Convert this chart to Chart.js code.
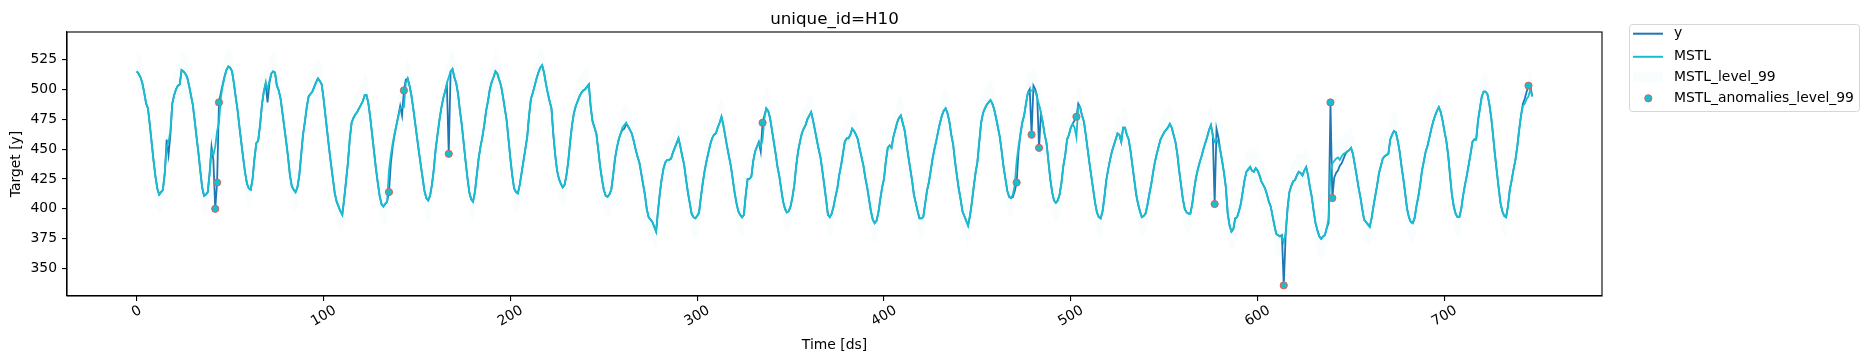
<!DOCTYPE html>
<html><head><meta charset="utf-8">
<script src="https://cdn.jsdelivr.net/npm/chart.js@4.4.0/dist/chart.umd.min.js"></script>
<style>html,body{margin:0;padding:0;background:#fff;}canvas{display:block;}</style>
</head><body>
<canvas id="c" width="1868" height="361"></canvas>
<script>
// observed series (one row = one day of 24 hourly values)
const y = [
515,513,510,505,497,488,484,470,455,440,427,417,412,414,416,430,458,445,462,488,495,500,503,504,
516,515,513,510,503,495,487,474,460,447,432,418,411,412,414,430,452,441,400,422,489,497,504,511,
516,519,518,515,505,493,482,468,455,442,430,421,417,416,425,442,455,457,470,487,498,505,489,505,
513,515,514,503,499,492,480,468,456,443,428,419,416,414,418,428,445,462,473,485,494,496,498,502,
506,509,507,504,492,478,464,450,437,425,413,406,402,398,395,408,423,438,458,472,476,479,481,484,
487,490,495,495,488,476,462,448,434,422,411,404,402,404,406,414,438,452,462,470,478,486,478,499,
508,509,503,495,484,472,460,448,437,426,415,409,407,411,420,433,450,462,474,484,492,498,504,446,
515,517,510,505,496,482,470,455,440,426,414,408,406,414,428,442,452,460,470,482,490,500,506,510,
515,513,508,503,494,484,474,458,442,428,417,414,413,420,430,440,450,460,478,492,497,503,509,514,
518,520,514,505,497,490,484,462,445,432,425,421,418,420,428,440,456,470,480,486,490,494,497,499,
500,502,504,485,473,468,463,450,436,425,416,411,410,412,416,428,442,451,458,463,466,467,471,469,
466,463,457,450,444,439,430,421,412,400,393,391,389,385,381,398,413,425,434,439,441,441,442,447,
451,455,459,452,444,437,425,414,405,396,393,392,394,397,410,422,432,440,447,454,459,462,463,468,
472,477,470,461,452,444,436,425,414,405,398,395,393,395,412,425,425,427,440,448,452,456,448,472,
478,484,482,476,466,456,446,435,427,416,406,400,397,398,402,410,420,436,448,456,463,467,470,475,
478,481,474,466,458,450,443,432,420,408,395,393,396,402,410,417,428,436,446,456,459,459,462,467,
465,462,458,450,443,436,426,418,408,398,391,388,390,397,408,418,425,440,451,453,451,460,466,472,
476,478,472,466,455,444,434,424,412,405,398,392,392,393,404,415,422,432,442,450,457,465,472,478,
482,484,480,473,462,454,440,428,417,408,398,394,390,386,394,405,418,430,439,456,472,480,484,487,
489,491,488,483,476,468,460,448,435,425,415,410,409,410,415,422,448,462,472,478,488,497,500,462,
503,500,494,451,480,472,462,455,440,425,414,407,405,407,412,422,436,445,458,462,468,471,474,477,
488,485,478,473,462,450,438,427,416,405,397,393,392,398,410,424,433,441,448,453,458,463,462,456,
468,468,462,458,448,436,424,412,404,398,393,394,396,403,412,420,430,439,446,452,458,461,464,466,
468,471,468,462,456,446,432,420,408,400,397,396,396,404,416,426,433,439,444,450,455,460,466,470,
462,404,467,460,449,440,430,418,396,386,381,383,392,393,398,404,414,424,431,433,435,432,431,434,
432,428,423,420,417,412,406,402,394,386,379,378,377,378,336,378,400,414,419,423,424,428,431,430,
428,432,435,428,418,410,398,388,382,377,375,377,378,384,388,489,409,426,430,432,436,438,442,446,
448,449,451,446,437,428,418,410,400,391,389,387,385,392,402,411,420,430,436,442,444,445,446,458,
462,465,464,457,448,436,425,413,400,393,389,388,392,402,410,420,432,440,448,453,460,467,473,478,
482,485,481,474,465,457,445,428,412,402,396,393,393,400,411,420,428,437,446,456,458,458,474,484,
494,498,498,496,488,477,462,446,432,418,405,398,394,393,402,416,424,433,441,452,466,478,488,492,498,503,503,494
];
// MSTL fitted values
const mstl = [
515,513,510,505,497,488,484,470,455,440,427,417,412,414,416,430,452,456,465,488,495,500,503,504,
516,515,513,510,503,495,487,474,460,447,432,418,411,412,414,430,448,445,452,465,472,493,503,510,
516,519,518,515,505,493,482,468,455,442,430,421,417,416,425,442,455,457,470,487,498,505,500,507,
513,515,514,503,499,492,480,468,456,443,428,419,416,414,418,428,445,462,473,485,494,496,498,502,
506,509,507,504,492,478,464,450,437,425,413,406,402,398,395,408,423,438,458,472,476,479,481,484,
487,490,495,495,488,476,462,448,434,422,411,404,402,404,406,432,445,455,463,470,477,484,485,485,
505,509,503,495,484,472,460,448,437,426,415,409,407,411,420,433,450,462,474,484,492,498,505,510,
515,517,510,505,496,482,470,455,440,426,414,408,406,414,428,442,452,460,470,482,490,500,506,510,
515,513,508,503,494,484,474,458,442,428,417,414,413,420,430,440,450,460,478,492,497,503,509,514,
518,520,514,505,497,490,484,462,445,432,425,421,418,420,428,440,456,470,480,486,490,494,497,499,
500,502,504,485,473,468,463,450,436,425,416,411,410,412,416,428,442,451,458,463,468,470,472,469,
466,463,457,450,444,439,430,421,412,400,393,391,389,385,381,398,413,425,434,439,441,441,442,447,
451,455,459,452,444,437,425,414,405,396,393,392,394,397,410,422,432,440,447,454,459,462,463,468,
472,477,470,461,452,444,436,425,414,405,398,395,393,395,412,425,425,427,440,448,452,455,452,458,
476,484,482,476,466,456,446,435,427,416,406,400,397,398,402,410,420,436,448,456,463,467,470,475,
478,481,474,466,458,450,443,432,420,408,395,393,396,402,410,417,428,436,446,456,459,459,462,467,
465,462,458,450,443,436,426,418,408,398,391,388,390,397,408,418,425,440,451,453,451,460,466,472,
476,478,472,466,455,444,434,424,412,405,398,392,392,393,404,415,422,432,442,450,457,465,472,478,
482,484,480,473,462,454,440,428,417,408,398,394,390,386,394,405,418,430,439,456,472,480,484,487,
489,491,488,483,476,468,460,448,435,425,415,410,409,412,420,440,452,462,472,478,488,497,498,499,
500,498,493,487,480,472,462,455,440,425,414,407,405,407,412,422,436,445,458,462,468,471,468,460,
486,485,478,473,462,450,438,427,416,405,397,393,392,398,410,424,433,441,448,453,458,463,462,456,
468,468,462,458,448,436,424,412,404,398,393,394,396,403,412,420,430,439,446,452,458,461,464,466,
468,471,468,462,456,446,432,420,408,400,397,396,396,404,416,426,433,439,444,450,455,460,466,470,
461,456,458,455,449,440,430,418,396,386,381,383,392,393,398,404,414,424,431,433,435,432,431,434,
432,428,423,420,417,412,406,402,394,386,379,378,377,377,372,380,400,414,419,423,424,428,431,430,
428,432,435,428,418,410,398,388,382,377,375,377,378,384,392,432,438,440,442,443,441,444,446,447,
448,449,451,446,437,428,418,410,400,391,389,387,385,392,402,411,420,430,436,442,444,445,446,458,
462,465,464,457,448,436,425,413,400,393,389,388,392,402,410,420,432,440,448,453,460,467,473,478,
482,485,481,474,465,457,445,428,412,402,396,393,393,400,411,420,428,437,446,456,458,458,474,484,
494,498,498,496,488,477,462,446,432,418,405,398,394,393,402,416,424,433,441,452,466,478,486,488,492,494,500,494
];
// half width of the 99% interval band around MSTL
const levelHalfWidth = 17;
// hours flagged as anomalies (outside the 99% band)
const anomalyHours = [42,43,44,135,143,167,335,471,479,483,503,577,614,639,640,745];
const xTickValues = [0,100,200,300,400,500,600,700];
const yTickValues = [350,375,400,425,450,475,500,525];
const titleText = 'unique_id=H10';
const xTitle = 'Time [ds]';
const yTitle = 'Target [y]';

const FONT = "'DejaVu Sans', sans-serif";
const C_Y = '#1f77b4', C_M = '#17becf', C_BAND = 'rgba(23,190,207,0.028)', C_EDGE = '#ea5a4e';

const pts = arr => arr.map((v, i) => ({x: i, y: v}));
const lo = mstl.map(v => v - levelHalfWidth);
const hi = mstl.map(v => v + levelHalfWidth);

const decor = {
  id: 'decor',
  afterDraw(chart) {
    const ctx = chart.ctx, ca = chart.chartArea, xs = chart.scales.x;
    ctx.save();
    ctx.strokeStyle = '#000'; ctx.lineWidth = 1.1;
    ctx.strokeRect(ca.left, ca.top, ca.right - ca.left, ca.bottom - ca.top);
    ctx.fillStyle = '#000';
    ctx.font = '13.9px ' + FONT;
    ctx.textAlign = 'center'; ctx.textBaseline = 'middle';
    const s = Math.sin(Math.PI / 6), c = Math.cos(Math.PI / 6);
    xTickValues.forEach(v => {
      const px = xs.getPixelForValue(v);
      const w = ctx.measureText(String(v)).width;
      const cy = ca.bottom + 9 + (w * s + 10.5 * c) / 2;
      ctx.save(); ctx.translate(px, cy); ctx.rotate(-Math.PI / 6);
      ctx.fillText(String(v), 0, 0); ctx.restore();
    });
    ctx.fillText(xTitle, (ca.left + ca.right) / 2, 345);
    ctx.save(); ctx.translate(16, (ca.top + ca.bottom) / 2); ctx.rotate(-Math.PI / 2);
    ctx.fillText(yTitle, 0, 0); ctx.restore();
    ctx.font = '16.7px ' + FONT; ctx.textBaseline = 'alphabetic';
    ctx.fillText(titleText, (ca.left + ca.right) / 2, 24);
    const L = 1629.5, T = 24.5, W = 230, H = 87, r = 3;
    ctx.beginPath();
    ctx.moveTo(L + r, T); ctx.lineTo(L + W - r, T); ctx.quadraticCurveTo(L + W, T, L + W, T + r);
    ctx.lineTo(L + W, T + H - r); ctx.quadraticCurveTo(L + W, T + H, L + W - r, T + H);
    ctx.lineTo(L + r, T + H); ctx.quadraticCurveTo(L, T + H, L, T + H - r);
    ctx.lineTo(L, T + r); ctx.quadraticCurveTo(L, T, L + r, T); ctx.closePath();
    ctx.fillStyle = '#fff'; ctx.fill();
    ctx.strokeStyle = '#d6d6d6'; ctx.lineWidth = 1; ctx.stroke();
    const rows = [33.7, 56.8, 77.3, 98.3];
    ctx.lineWidth = 2;
    ctx.strokeStyle = C_Y; ctx.beginPath(); ctx.moveTo(1633, rows[0]); ctx.lineTo(1663, rows[0]); ctx.stroke();
    ctx.strokeStyle = C_M; ctx.beginPath(); ctx.moveTo(1633, rows[1]); ctx.lineTo(1663, rows[1]); ctx.stroke();
    ctx.fillStyle = C_BAND; ctx.fillRect(1633, rows[2] - 5.5, 30, 11);
    ctx.beginPath(); ctx.arc(1648.3, rows[3], 3.6, 0, Math.PI * 2);
    ctx.fillStyle = C_M; ctx.fill(); ctx.lineWidth = 1; ctx.strokeStyle = C_EDGE; ctx.stroke();
    ctx.fillStyle = '#000'; ctx.font = '13.9px ' + FONT; ctx.textAlign = 'left'; ctx.textBaseline = 'middle';
    ['y', 'MSTL', 'MSTL_level_99', 'MSTL_anomalies_level_99'].forEach((t, i) => ctx.fillText(t, 1674, rows[i]));
    ctx.restore();
  }
};

new Chart(document.getElementById('c'), {
  type: 'line',
  data: {
    datasets: [
      {label: 'lo', data: pts(lo), borderWidth: 0, pointRadius: 0, fill: false, order: 4},
      {label: 'MSTL_level_99', data: pts(hi), borderWidth: 0, pointRadius: 0, fill: 0, backgroundColor: C_BAND, order: 3},
      {label: 'y', data: pts(y), borderColor: C_Y, borderWidth: 1.8, pointRadius: 0, fill: false, order: 2},
      {label: 'MSTL', data: pts(mstl), borderColor: C_M, borderWidth: 1.8, pointRadius: 0, fill: false, order: 1},
      {type: 'scatter', label: 'MSTL_anomalies_level_99', data: anomalyHours.map(h => ({x: h, y: y[h]})),
       pointRadius: 3.6, pointBackgroundColor: C_M, pointBorderColor: C_EDGE, pointBorderWidth: 1, showLine: false, order: 0}
    ]
  },
  options: {
    responsive: false, animation: false, devicePixelRatio: 1,
    layout: {padding: {left: 0, right: 266, top: 32, bottom: 0}},
    elements: {line: {tension: 0}},
    plugins: {legend: {display: false}, title: {display: false}, tooltip: {enabled: false}},
    scales: {
      x: {
        type: 'linear', min: -37.35, max: 784.35,
        afterBuildTicks: s => { s.ticks = xTickValues.map(v => ({value: v})); },
        afterFit: s => { s.height = 65; },
        grid: {display: true, drawOnChartArea: false, drawTicks: true, tickLength: 5, color: '#000', lineWidth: 1.1},
        border: {display: true, color: '#000', width: 1.1},
        ticks: {display: false}
      },
      y: {
        type: 'linear', min: 327.1, max: 547.9,
        afterBuildTicks: s => { s.ticks = yTickValues.map(v => ({value: v})); },
        afterFit: s => { s.width = 67; },
        grid: {display: true, drawOnChartArea: false, drawTicks: true, tickLength: 5, color: '#000', lineWidth: 1.1},
        border: {display: true, color: '#000', width: 1.1},
        ticks: {font: {family: FONT, size: 13.9}, color: '#000', padding: 5}
      }
    }
  },
  plugins: [decor]
});
</script>
</body></html>
